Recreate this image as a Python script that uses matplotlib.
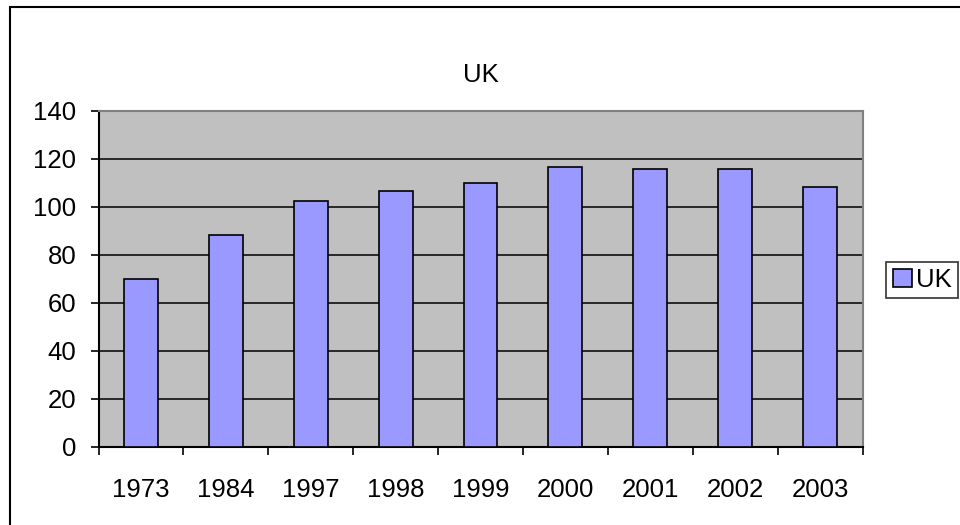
import matplotlib.pyplot as plt
from matplotlib.patches import Rectangle

years = ['1973', '1984', '1997', '1998', '1999', '2000', '2001', '2002', '2003']
uk_values = [70, 88.2, 102.5, 106.7, 110, 116.5, 115.7, 115.7, 108.2]
y_ticks = [0, 20, 40, 60, 80, 100, 120, 140]

plt.rcParams['font.family'] = ['Liberation Sans', 'DejaVu Sans']
FS = 18.5

W, H = 960, 525
fig = plt.figure(figsize=(W / 100, H / 100), dpi=100)

# plot area in pixel coords of the reference
left, right, top, bottom = 98.5, 862.5, 111, 447
ax = fig.add_axes([left / W, 1 - bottom / H, (right - left) / W, (bottom - top) / H])
ax.set_facecolor('#C0C0C0')

x = list(range(len(years)))
ax.bar(x, uk_values, width=0.4, color='#9999FF', edgecolor='black', linewidth=1.2,
       label='UK', zorder=3)

ax.set_xlim(-0.5, len(years) - 0.5)
ax.set_ylim(0, 140)
ax.set_yticks(y_ticks)
ax.set_yticklabels([str(v) for v in y_ticks], fontsize=FS)
ax.yaxis.grid(True, color='black', linewidth=1.1, zorder=1)
ax.set_axisbelow(True)

# category labels at centres, tick marks at boundaries
ax.set_xticks(x)
ax.set_xticklabels(years, fontsize=FS)
ax.set_xticks([i - 0.5 for i in range(len(years) + 1)], minor=True)
ax.tick_params(axis='x', which='major', length=0, pad=22)
ax.tick_params(axis='x', which='minor', direction='out', length=6, width=1.2, color='black')
ax.tick_params(axis='y', direction='out', length=6, width=1.2, pad=10)

for s in ['top', 'right']:
    ax.spines[s].set_color('#808080')
    ax.spines[s].set_linewidth(1.5)
for s in ['left', 'bottom']:
    ax.spines[s].set_color('black')
    ax.spines[s].set_linewidth(1.5)

fig.text(481 / W, 1 - 75 / H, 'UK', fontsize=FS, ha='center', va='center')

leg = fig.legend(loc='center right', bbox_to_anchor=(958 / W, 1 - 280 / H),
                 fontsize=FS, frameon=True, fancybox=False, shadow=False,
                 handlelength=0.75, handleheight=0.75, handletextpad=0.15,
                 borderpad=0.25, borderaxespad=0, edgecolor='black')
leg.get_frame().set_linewidth(1.2)

# outer chart border
fig.patches.append(Rectangle((10 / W, -0.01), 1.02, 1 - 7 / H + 0.01,
                             transform=fig.transFigure, fill=False,
                             edgecolor='black', linewidth=1.5))

plt.savefig('out.png', dpi=100)
